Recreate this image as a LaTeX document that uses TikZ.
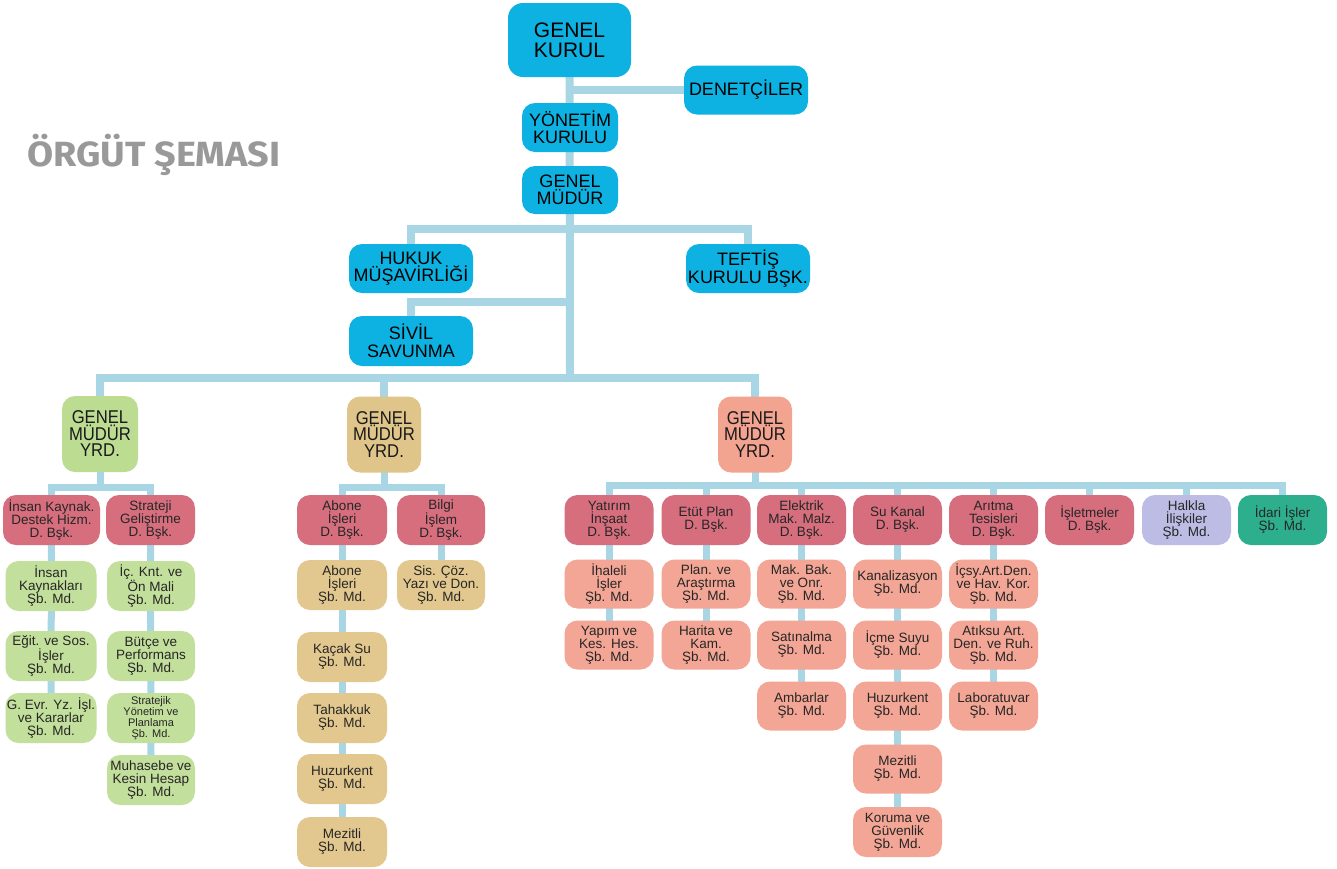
\documentclass[tikz,border=0pt]{standalone}
\usepackage{fontspec}
\setmainfont{Liberation Sans}
\newfontfamily\titlefont{Fira Sans}
\usetikzlibrary{backgrounds}
\definecolor{cyanb}{HTML}{0DB2E2}
\definecolor{connc}{HTML}{A9D6E5}
\definecolor{gmygreen}{HTML}{BCDC92}
\definecolor{gmytan}{HTML}{E0C58A}
\definecolor{gmysalmon}{HTML}{F3A491}
\definecolor{dbsk}{HTML}{D66E7E}
\definecolor{subgreen}{HTML}{C3DF9C}
\definecolor{subtan}{HTML}{E2C88E}
\definecolor{subsalmon}{HTML}{F3A695}
\definecolor{lav}{HTML}{BCBCE4}
\definecolor{tealb}{HTML}{2DAE8C}
\definecolor{titlegray}{HTML}{999999}
\definecolor{txt}{HTML}{262626}
\newcommand\fsz[2]{\fontsize{#1}{#2}\selectfont}
\tikzset{
 base/.style={rounded corners=13pt, align=center, inner sep=0pt, text=txt},
 topb/.style={base, fill=cyanb, text=black, minimum width=124pt, minimum height=49pt, font=\fsz{18}{17.5}},
 gmyb/.style={base, minimum width=75pt, minimum height=76pt, font=\fsz{18.5}{16.5}\addfontfeature{FakeStretch=0.9}, text=black!90},
 small/.style={base, minimum width=89pt, minimum height=50pt, font=\fsz{13.5}{13}},
 dep/.style={small, fill=dbsk},
 gs/.style={small, fill=subgreen},
 ts/.style={small, fill=subtan},
 ss/.style={small, fill=subsalmon, minimum height=49pt},
 conn/.style={draw=connc, line width=8pt},
 connb/.style={draw=connc, line width=7pt},
}
\begin{document}
\begin{tikzpicture}[x=1pt,y=-1pt]
\useasboundingbox (0,0) rectangle (1337,868);
\node[font=\titlefont\bfseries\fsz{35}{35}\addfontfeature{FakeStretch=1.08}, text=titlegray, anchor=west, inner sep=0pt] (title) at (27,155) {ÖRGÜT ŞEMASI};

% top level
\node[topb, minimum width=123pt, minimum height=74pt, rounded corners=15pt, font=\fsz{21}{20}] (gk) at (569.5,40) {GENEL\\KURUL};
\node[topb] (den) at (746,90) {DENETÇİLER};
\node[topb, minimum width=96pt] (yk) at (570,127.5) {YÖNETİM\\KURULU};
\node[topb, minimum width=96pt, minimum height=48pt] (gm) at (570,190) {GENEL\\MÜDÜR};
\node[topb] (huk) at (411,268.5) {HUKUK\\MÜŞAVİRLİĞİ};
\node[topb] (tef) at (748,268.5) {TEFTİŞ\\KURULU BŞK.};
\node[topb, minimum height=50pt] (siv) at (411,341) {SİVİL\\SAVUNMA};

% deputies
\node[gmyb, fill=gmygreen, minimum width=76pt] (g1) at (100,434) {GENEL\\MÜDÜR\\YRD.};
\node[gmyb, fill=gmytan, minimum width=74pt] (g2) at (384,434.5) {GENEL\\MÜDÜR\\YRD.};
\node[gmyb, fill=gmysalmon, minimum width=74pt] (g3) at (755,434.5) {GENEL\\MÜDÜR\\YRD.};

% section 1
\node[dep, minimum width=97pt] (a1) at (51.5,520) {İnsan Kaynak.\\Destek Hizm.\\D. Bşk.};
\node[gs, minimum width=91pt] (a11) at (51,586) {İnsan\\Kaynakları\\Şb. Md.};
\node[gs, minimum width=91pt] (a12) at (51,656) {Eğit. ve Sos.\\İşler\\Şb. Md.};
\node[gs, minimum width=91pt] (a13) at (51,718) {G. Evr. Yz. İşl.\\ve Kararlar\\Şb. Md.};
\node[dep] (a2) at (150.5,520) {Strateji\\Geliştirme\\D. Bşk.};
\node[gs, minimum width=88pt] (a21) at (151,586) {İç. Knt. ve\\Ön Mali\\Şb. Md.};
\node[gs, minimum width=88pt] (a22) at (151,656) {Bütçe ve\\Performans\\Şb. Md.};
\node[gs, minimum width=88pt, font=\fsz{11}{11}] (a23) at (151,718) {Stratejik\\Yönetim ve\\Planlama\\Şb. Md.};
\node[gs, minimum width=88pt] (a24) at (151,780) {Muhasebe ve\\Kesin Hesap\\Şb. Md.};

% section 2
\node[dep, minimum width=90pt] (b1) at (342,520) {Abone\\İşleri\\D. Bşk.};
\node[ts, minimum width=90pt] (b11) at (342,585) {Abone\\İşleri\\Şb. Md.};
\node[ts, minimum width=90pt] (b12) at (342,657) {Kaçak Su\\Şb. Md.};
\node[ts, minimum width=90pt] (b13) at (342,718) {Tahakkuk\\Şb. Md.};
\node[ts, minimum width=90pt] (b14) at (342,779) {Huzurkent\\Şb. Md.};
\node[ts, minimum width=90pt] (b15) at (342,842) {Mezitli\\Şb. Md.};
\node[dep, minimum width=88pt] (b2) at (441,520) {Bilgi\\İşlem\\D. Bşk.};
\node[ts, minimum width=88pt] (b21) at (441,585) {Sis. Çöz.\\Yazı ve Don.\\Şb. Md.};

% section 3
\node[dep] (c1) at (609,520) {Yatırım\\İnşaat\\D. Bşk.};
\node[ss] (c11) at (609,584) {İhaleli\\İşler\\Şb. Md.};
\node[ss] (c12) at (609,645) {Yapım ve\\Kes. Hes.\\Şb. Md.};
\node[dep] (c2) at (706,520) {Etüt Plan\\D. Bşk.};
\node[ss] (c21) at (706,584) {Plan. ve\\Araştırma\\Şb. Md.};
\node[ss] (c22) at (706,645) {Harita ve\\Kam.\\Şb. Md.};
\node[dep] (c3) at (801.5,520) {Elektrik\\Mak. Malz.\\D. Bşk.};
\node[ss] (c31) at (801.5,584) {Mak. Bak.\\ve Onr.\\Şb. Md.};
\node[ss] (c32) at (801.5,645) {Satınalma\\Şb. Md.};
\node[ss] (c33) at (801.5,706) {Ambarlar\\Şb. Md.};
\node[dep] (c4) at (897.5,520) {Su Kanal\\D. Bşk.};
\node[ss] (c41) at (897.5,584) {Kanalizasyon\\Şb. Md.};
\node[ss] (c42) at (897.5,645) {İçme Suyu\\Şb. Md.};
\node[ss] (c43) at (897.5,706) {Huzurkent\\Şb. Md.};
\node[ss] (c44) at (897.5,769) {Mezitli\\Şb. Md.};
\node[ss, minimum height=50pt] (c45) at (897.5,832) {Koruma ve\\Güvenlik\\Şb. Md.};
\node[dep] (c5) at (993.5,520) {Arıtma\\Tesisleri\\D. Bşk.};
\node[ss] (c51) at (993.5,584) {İçsy.Art.Den.\\ve Hav. Kor.\\Şb. Md.};
\node[ss] (c52) at (993.5,645) {Atıksu Art.\\Den. ve Ruh.\\Şb. Md.};
\node[ss] (c53) at (993.5,706) {Laboratuvar\\Şb. Md.};
\node[dep] (c6) at (1089.5,520) {İşletmeler\\D. Bşk.};
\node[small, fill=lav] (c7) at (1186.5,520) {Halkla\\İlişkiler\\Şb. Md.};
\node[small, fill=tealb] (c8) at (1282.5,520) {İdari İşler\\Şb. Md.};

\coordinate (j1) at (570,229);
\coordinate (j2) at (570,302);
\coordinate (mb) at (570,378);
\coordinate (s1) at (100,487);
\coordinate (s2) at (384,487);
\coordinate (s3) at (755,485);

\begin{scope}[on background layer]
\fill[white] (0,0) rectangle (1337,868);
\draw[conn] (gk.center) -- (mb);
\draw[conn] (gk.center |- den.center) -- (den.center);
\draw[conn] (huk.center) |- (j1) -| (tef.center);
\draw[conn] (siv.center) |- (j2);
\draw[conn] (g1.center) |- (mb) -| (g3.center);
\draw[conn] (g2.center) -- (g2.center |- mb);
% section 1
\draw[connb] (a1.center) |- (s1) -| (a2.center);
\draw[connb] (g1.center) -- (s1);
\draw[connb] (a1.center) -- (a13.center);
\draw[connb] (a2.center) -- (a24.center);
% section 2
\draw[connb] (b1.center) |- (s2) -| (b2.center);
\draw[connb] (g2.center) -- (s2);
\draw[connb] (b1.center) -- (b15.center);
\draw[connb] (b2.center) -- (b21.center);
% section 3
\draw[connb] (c1.center) |- (s3) -| (c8.center);
\draw[connb] (g3.center) -- (s3);
\foreach \n in {c2,c3,c4,c5,c6,c7} \draw[connb] (\n.center) -- (\n.center |- s3);
\draw[connb] (c1.center) -- (c12.center);
\draw[connb] (c2.center) -- (c22.center);
\draw[connb] (c3.center) -- (c33.center);
\draw[connb] (c4.center) -- (c45.center);
\draw[connb] (c5.center) -- (c53.center);
\end{scope}
\end{tikzpicture}
\end{document}
